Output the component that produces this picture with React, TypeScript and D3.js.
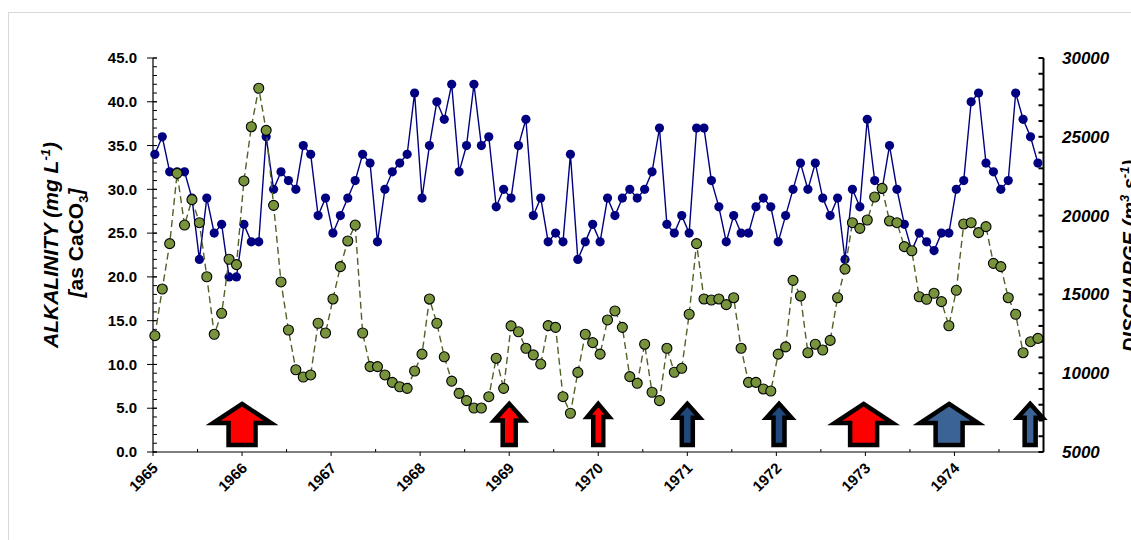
import React from 'react';
import * as d3 from 'd3';

const width = 1131;
const height = 540;

// monthly samples, Jan 1965 .. Dec 1974
const yearLabels = ['1965', '1966', '1967', '1968', '1969', '1970', '1971', '1972', '1973', '1974'];

const alkalinity = [
  34, 36, 32, 32, 32, 29, 22, 29, 25, 26, 20, 20,
  26, 24, 24, 36, 30, 32, 31, 30, 35, 34, 27, 29,
  25, 27, 29, 31, 34, 33, 24, 30, 32, 33, 34, 41,
  29, 35, 40, 38, 42, 32, 35, 42, 35, 36, 28, 30,
  29, 35, 38, 27, 29, 24, 25, 24, 34, 22, 24, 26,
  24, 29, 27, 29, 30, 29, 30, 32, 37, 26, 25, 27,
  25, 37, 37, 31, 28, 24, 27, 25, 25, 28, 29, 28,
  24, 27, 30, 33, 30, 33, 29, 27, 29, 22, 30, 28,
  38, 31, 30, 35, 30, 26, 23, 25, 24, 23, 25, 25,
  30, 31, 40, 41, 33, 32, 30, 31, 41, 38, 36, 33,
];

const discharge = [
  12380, 15340, 18220, 22680, 19400, 21010, 19550, 16120, 12470, 13800, 17230, 16890,
  22200, 25640, 28080, 25410, 20650, 15790, 12740, 10220, 9760, 9890, 13170, 12550,
  14710, 16760, 18390, 19400, 12550, 10420, 10420, 9890, 9420, 9140, 9040, 10140,
  11210, 14710, 13170, 11040, 9500, 8720, 8260, 7790, 7790, 8510, 10950, 9040,
  13000, 12630, 11580, 11160, 10580, 13020, 12910, 8510, 7460, 10050, 12470, 11940,
  11210, 13380, 13950, 12910, 9780, 9360, 11840, 8790, 8260, 11580, 10060, 10310,
  13740, 18220, 14710, 14640, 14710, 14350, 14790, 11580, 9420, 9420, 9000, 8870,
  11210, 11670, 15890, 14900, 11300, 11840, 11470, 12080, 14790, 16610, 19550, 19190,
  19720, 21180, 21730, 19660, 19550, 18030, 17770, 14850, 14690, 15070, 14540, 13010,
  15260, 19470, 19550, 18920, 19300, 16970, 16760, 14790, 13740, 11300, 12000, 12210,
];

// flow-event arrows along the bottom
const arrowYears = [1966, 1969, 1970, 1971, 1972.03, 1972.98, 1973.94, 1974.85];
const arrowColors = ['#ff0000', '#ff0000', '#ff0000', '#1f497d', '#1f497d', '#ff0000', '#3b6494', '#3b6494'];
const arrowSizes = ['big', 'mid', 'small', 'thin', 'thin', 'big', 'big', 'thin'];

const arrowShape: Record<string, { head: number; shaft: number; neck: number }> = {
  big: { head: 29, shaft: 13.5, neck: 3.3 },
  mid: { head: 15, shaft: 6.5, neck: 3.6 },
  small: { head: 11, shaft: 5, neck: 4.0 },
  thin: { head: 12.5, shaft: 5.5, neck: 3.9 },
};

const left = 153;
const right = 1043.5;
const top = 58;
const bottom = 452;

const font = 'Arial, "Liberation Sans", sans-serif';

export default function App() {
  const time = (i: number) => 1965 + (i + 0.25) / 12;

  const xScale = d3.scaleLinear().domain([1965, 1975]).range([left, right]);
  const yLeft = d3.scaleLinear().domain([0, 45]).range([bottom, top]);
  const yRight = d3.scaleLinear().domain([5000, 30000]).range([bottom, top]);

  const alkLine = d3
    .line<number>()
    .x((d, i) => xScale(time(i)))
    .y(d => yLeft(d));
  const disLine = d3
    .line<number>()
    .x((d, i) => xScale(time(i)))
    .y(d => yRight(d));

  const leftMajor = d3.range(0, 45.01, 5);
  const leftMinor = d3.range(0, 45.01, 1);
  const rightTicks = d3.range(5000, 30001, 1000);
  const rightMajor = d3.range(5000, 30001, 5000);
  const halfYears = d3.range(1965.5, 1975, 1);

  const arrowPath = (year: number, size: string) => {
    const s = arrowShape[size];
    const x = xScale(year);
    const yTip = yLeft(5.5);
    const yNeck = yLeft(s.neck);
    const yBase = yLeft(0.8);
    return `M${x},${yTip} L${x + s.head},${yNeck} L${x + s.shaft},${yNeck} L${x + s.shaft},${yBase} ` +
      `L${x - s.shaft},${yBase} L${x - s.shaft},${yNeck} L${x - s.head},${yNeck} Z`;
  };

  return (
    <svg
      width={width}
      height={height}
      style={{ position: 'absolute', left: 0, top: 0, background: '#fff' }}
      fontFamily={font}
    >
      <rect x={8.5} y={12.5} width={1300} height={700} fill="none" stroke="#d9d9d9" />

      {/* arrows */}
      {arrowYears.map((yr, i) => (
        <path
          key={'a' + i}
          d={arrowPath(yr, arrowSizes[i])}
          fill={arrowColors[i]}
          stroke="#000"
          strokeWidth={4.5}
          strokeLinejoin="miter"
        />
      ))}

      {/* left axis */}
      <line x1={left} x2={left} y1={top} y2={bottom} stroke="#000" strokeWidth={1.2} />
      {leftMinor.map(v => (
        <line key={'lm' + v} x1={left} x2={left + 4} y1={yLeft(v)} y2={yLeft(v)} stroke="#000" />
      ))}
      {leftMajor.map(v => (
        <g key={'lM' + v}>
          <line x1={left - 6} x2={left + 4} y1={yLeft(v)} y2={yLeft(v)} stroke="#000" />
          <text
            x={left - 16}
            y={yLeft(v)}
            dy="0.35em"
            textAnchor="end"
            fontSize={15}
            fontWeight="bold"
          >
            {d3.format('.1f')(v)}
          </text>
        </g>
      ))}

      {/* right axis */}
      <line x1={right} x2={right} y1={top} y2={bottom} stroke="#000" strokeWidth={2} />
      {rightTicks.map(v => (
        <line key={'rt' + v} x1={right - 5} x2={right} y1={yRight(v)} y2={yRight(v)} stroke="#000" strokeWidth={2} />
      ))}
      {rightMajor.map(v => (
        <text
          key={'rl' + v}
          x={1062}
          y={yRight(v)}
          dy="0.35em"
          fontSize={17}
          fontWeight="bold"
          fontStyle="italic"
        >
          {v}
        </text>
      ))}

      {/* bottom axis */}
      <line x1={left} x2={right} y1={bottom} y2={bottom} stroke="#000" strokeWidth={1.2} />
      {halfYears.map(v => (
        <line key={'hx' + v} x1={xScale(v)} x2={xScale(v)} y1={bottom - 3} y2={bottom} stroke="#000" />
      ))}
      {yearLabels.map(lbl => {
        const x = xScale(+lbl);
        return (
          <g key={'x' + lbl}>
            <line x1={x} x2={x} y1={bottom} y2={bottom + 4} stroke="#000" />
            <text
              transform={`translate(${x + 6},${bottom + 17}) rotate(-45)`}
              textAnchor="end"
              fontSize={15}
              fontWeight="bold"
            >
              {lbl}
            </text>
          </g>
        );
      })}

      {/* alkalinity series */}
      <path d={alkLine(alkalinity) || ''} fill="none" stroke="#000080" strokeWidth={1.4} />
      {alkalinity.map((d, i) => (
        <circle key={'b' + i} cx={xScale(time(i))} cy={yLeft(d)} r={4.6} fill="#000080" />
      ))}

      {/* discharge series */}
      <path
        d={disLine(discharge) || ''}
        fill="none"
        stroke="#4f6228"
        strokeWidth={1.4}
        strokeDasharray="7,4"
      />
      {discharge.map((d, i) => (
        <circle
          key={'g' + i}
          cx={xScale(time(i))}
          cy={yRight(d)}
          r={5}
          fill="#77933c"
          stroke="#000"
          strokeWidth={1.1}
        />
      ))}

      {/* axis titles */}
      <text transform="translate(58,245) rotate(-90)" textAnchor="middle" fontSize={21} fontWeight="bold" fontStyle="italic">
        ALKALINITY (mg L<tspan dy={-8} fontSize={13}>-1</tspan><tspan dy={8}>)</tspan>
      </text>
      <text transform="translate(83,243) rotate(-90)" textAnchor="middle" fontSize={21} fontWeight="bold">
        <tspan fontStyle="italic">[</tspan>as CaCO<tspan dy={5} fontSize={13}>3</tspan><tspan dy={-5} fontStyle="italic">]</tspan>
      </text>
      <text transform="translate(1137,256) rotate(-90)" textAnchor="middle" fontSize={20} fontWeight="bold" fontStyle="italic">
        DISCHARGE  (m<tspan dy={-8} fontSize={13}>3</tspan><tspan dy={8}> s</tspan><tspan dy={-8} fontSize={13}>-1</tspan><tspan dy={8}>)</tspan>
      </text>
    </svg>
  );
}
